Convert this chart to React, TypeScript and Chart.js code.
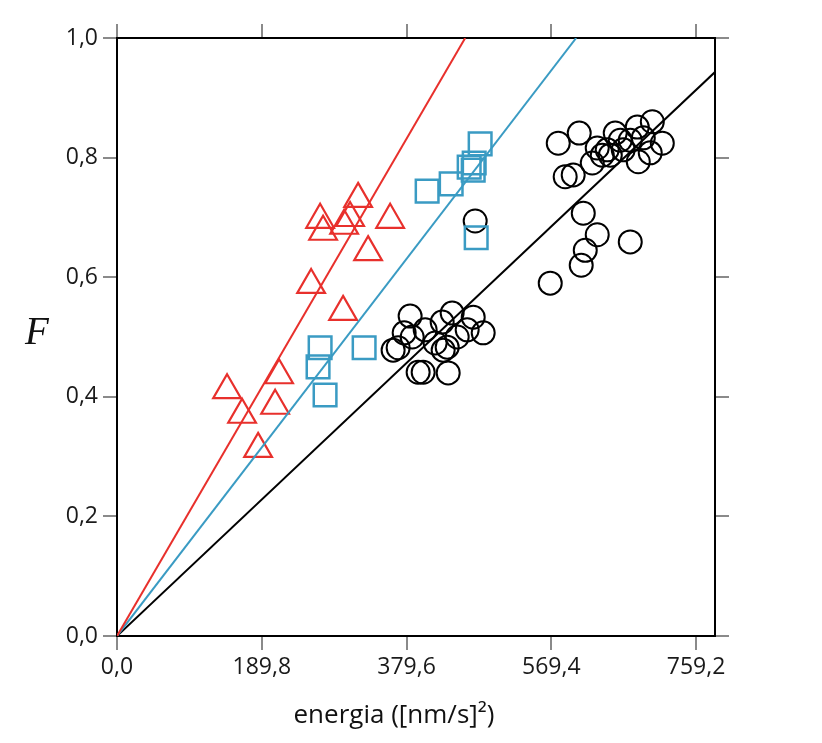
import React, { useEffect, useRef } from 'react';
import { Chart, registerables } from 'chart.js';

Chart.register(...registerables);

// values
const triangles = [
    { x: 144.3, y: 0.411 }, { x: 164.0, y: 0.370 }, { x: 185.0, y: 0.313 },
    { x: 207.3, y: 0.385 }, { x: 212.5, y: 0.436 }, { x: 254.5, y: 0.587 },
    { x: 296.4, y: 0.542 }, { x: 266.3, y: 0.696 }, { x: 270.2, y: 0.676 },
    { x: 305.6, y: 0.699 }, { x: 297.8, y: 0.686 }, { x: 316.1, y: 0.731 },
    { x: 358.1, y: 0.696 }, { x: 329.2, y: 0.642 },
];

const squares = [
    { x: 266.3, y: 0.482 }, { x: 263.6, y: 0.450 }, { x: 272.8, y: 0.403 },
    { x: 324.0, y: 0.482 }, { x: 406.6, y: 0.744 }, { x: 438.1, y: 0.756 },
    { x: 461.7, y: 0.784 }, { x: 468.3, y: 0.791 }, { x: 476.1, y: 0.823 },
    { x: 467.0, y: 0.779 }, { x: 470.9, y: 0.666 },
];

const circles = [
    // lower group
    { x: 368.6, y: 0.482 }, { x: 362.0, y: 0.478 }, { x: 384.3, y: 0.535 },
    { x: 387.0, y: 0.500 }, { x: 404.0, y: 0.512 }, { x: 439.4, y: 0.540 },
    { x: 426.3, y: 0.525 }, { x: 417.1, y: 0.490 }, { x: 432.9, y: 0.483 },
    { x: 459.1, y: 0.512 }, { x: 467.0, y: 0.533 }, { x: 480.1, y: 0.507 },
    { x: 446.0, y: 0.500 }, { x: 427.6, y: 0.478 }, { x: 394.8, y: 0.441 },
    { x: 401.4, y: 0.441 }, { x: 434.2, y: 0.440 }, { x: 376.5, y: 0.507 },
    { x: 469.6, y: 0.694 },
    // middle group
    { x: 611.3, y: 0.707 }, { x: 629.6, y: 0.671 }, { x: 613.9, y: 0.645 },
    { x: 608.6, y: 0.620 }, { x: 568.0, y: 0.590 }, { x: 672.9, y: 0.659 },
    // upper group
    { x: 578.5, y: 0.824 }, { x: 606.0, y: 0.841 }, { x: 587.6, y: 0.768 },
    { x: 598.1, y: 0.771 }, { x: 623.1, y: 0.791 }, { x: 629.6, y: 0.816 },
    { x: 653.2, y: 0.841 }, { x: 663.7, y: 0.813 }, { x: 682.1, y: 0.851 },
    { x: 701.8, y: 0.860 }, { x: 714.9, y: 0.824 }, { x: 699.1, y: 0.808 },
    { x: 683.4, y: 0.793 }, { x: 642.7, y: 0.813 }, { x: 646.7, y: 0.804 },
    { x: 672.9, y: 0.829 }, { x: 659.8, y: 0.829 }, { x: 636.2, y: 0.804 },
    { x: 690.0, y: 0.833 },
];

// fitted lines through the origin
const redLine = [{ x: 0, y: 0 }, { x: 456.5, y: 1.0 }];
const blueLine = [{ x: 0, y: 0 }, { x: 602, y: 1.0 }];
const blackLine = [{ x: 0, y: 0 }, { x: 784, y: 0.943 }];

const xTicks = [0, 189.8, 379.6, 569.4, 759.2];
const yTicks = [0, 0.2, 0.4, 0.6, 0.8, 1.0];
const xMax = 784;

const RED = '#e8302c';
const BLUE = '#3a9bc3';

const fmt = (v: number) => v.toFixed(1).replace('.', ',');

const tickFont = { family: '"Open Sans", sans-serif', size: 23 };

const titles = {
    id: 'titles',
    afterDraw(chart: any) {
        const { ctx } = chart;
        ctx.save();
        ctx.fillStyle = '#111';
        ctx.textAlign = 'center';
        ctx.textBaseline = 'alphabetic';
        ctx.font = 'italic 39px "Liberation Serif", serif';
        ctx.fillText('F', 37, 344);
        ctx.textBaseline = 'middle';
        ctx.font = '26px "Open Sans", sans-serif';
        ctx.fillText('energia ([nm/s]²)', 394, 716);
        ctx.restore();
    },
};

const setTicks = (list: number[]) => (s: any) => {
    s.ticks = list.map(v => ({ value: v }));
};

const App: React.FC = () => {
    const chartRef = useRef<HTMLCanvasElement>(null);
    const chartInstance = useRef<Chart | null>(null);

    useEffect(() => {
        if (!chartRef.current) return;
        if (chartInstance.current) chartInstance.current.destroy();
        const ctx = chartRef.current.getContext('2d');
        if (!ctx) return;

        const grid = {
            drawOnChartArea: false,
            color: '#8a8a8a',
            lineWidth: 2,
            tickLength: 14,
        };
        const border = { color: '#000', width: 2 };

        chartInstance.current = new Chart(ctx, {
            type: 'scatter',
            data: {
                datasets: [
                    {
                        data: redLine, showLine: true, borderColor: RED, borderWidth: 2,
                        pointRadius: 0,
                    },
                    {
                        data: blueLine, showLine: true, borderColor: BLUE, borderWidth: 2,
                        pointRadius: 0,
                    },
                    {
                        data: blackLine, showLine: true, borderColor: '#000', borderWidth: 2,
                        pointRadius: 0,
                    },
                    {
                        data: triangles, pointStyle: 'triangle', pointRadius: 16,
                        borderColor: RED, borderWidth: 2.2, backgroundColor: 'transparent',
                    },
                    {
                        data: squares, pointStyle: 'rect', pointRadius: 16,
                        borderColor: BLUE, borderWidth: 2.5, backgroundColor: 'transparent',
                    },
                    {
                        data: circles, pointStyle: 'circle', pointRadius: 11.5,
                        borderColor: '#000', borderWidth: 2, backgroundColor: 'transparent',
                    },
                ] as any,
            },
            options: {
                animation: false,
                responsive: true,
                maintainAspectRatio: false,
                layout: { padding: 0 },
                plugins: {
                    legend: { display: false },
                    tooltip: { enabled: false },
                },
                scales: {
                    x: {
                        type: 'linear', position: 'bottom', min: 0, max: xMax,
                        grid, border,
                        afterBuildTicks: setTicks(xTicks),
                        ticks: {
                            color: '#1a1a1a', font: tickFont, padding: 4, maxRotation: 0,
                            autoSkip: false,
                            callback: (v: any) => fmt(Number(v)),
                        },
                        afterFit: (s: any) => { s.height = 107; },
                    },
                    x2: {
                        type: 'linear', position: 'top', min: 0, max: xMax,
                        grid, border,
                        afterBuildTicks: setTicks(xTicks),
                        ticks: { display: false },
                        afterFit: (s: any) => { s.height = 38; },
                    },
                    y: {
                        type: 'linear', position: 'left', min: 0, max: 1,
                        grid, border,
                        afterBuildTicks: setTicks(yTicks),
                        ticks: {
                            color: '#1a1a1a', font: tickFont, padding: 5, autoSkip: false,
                            callback: (v: any) => fmt(Number(v)),
                        },
                        afterFit: (s: any) => { s.width = 117; },
                    },
                    y2: {
                        type: 'linear', position: 'right', min: 0, max: 1,
                        grid, border,
                        afterBuildTicks: setTicks(yTicks),
                        ticks: { display: false },
                        afterFit: (s: any) => { s.width = 107; },
                    },
                },
            } as any,
            plugins: [titles],
        });

        return () => {
            if (chartInstance.current) {
                chartInstance.current.destroy();
                chartInstance.current = null;
            }
        };
    }, []);

    return (
        <div style={{ position: 'fixed', left: 0, top: 0, width: 822, height: 743, background: '#fff' }}>
            <canvas ref={chartRef}></canvas>
        </div>
    );
};

export default App;
